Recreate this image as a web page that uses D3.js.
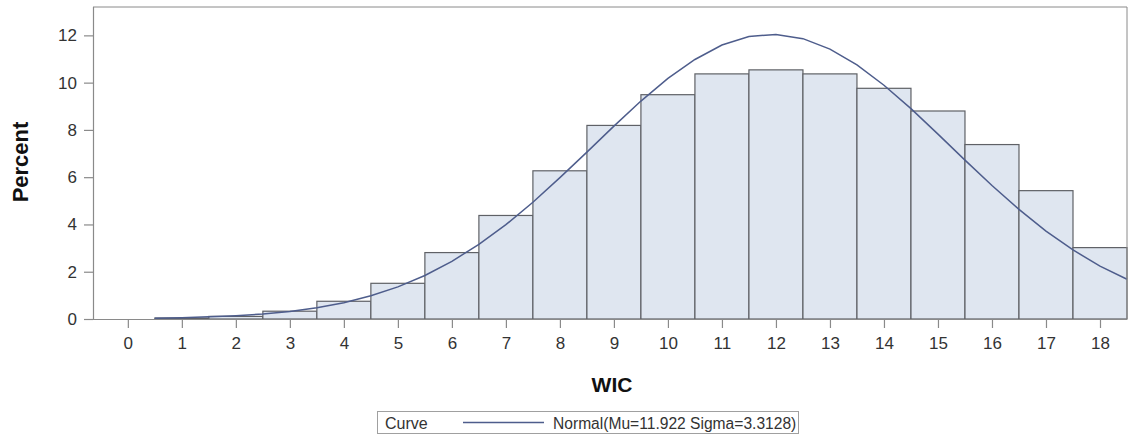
<!DOCTYPE html>
<html><head><meta charset="utf-8">
<script src="https://cdn.jsdelivr.net/npm/d3@7"></script>
<style>
html,body{margin:0;padding:0;background:#fff;}
svg{display:block;font-family:"Liberation Sans",Arial,sans-serif;}
</style></head>
<body><svg id="chart" width="1132" height="441"></svg>
<script>
// Histogram bins (midpoints) and percent values
const binMids = [1,2,3,4,5,6,7,8,9,10,11,12,13,14,15,16,17,18];
const binPercent = [0.04,0.11,0.33,0.75,1.51,2.81,4.38,6.27,8.19,9.49,10.37,10.54,10.37,9.76,8.8,7.38,5.43,3.02];
// Normal curve points
const curveX = [0.5,1,1.5,2,2.5,3,3.5,4,4.5,5,5.5,6,6.5,7,7.5,8,8.5,9,9.5,10,10.5,11,11.5,12,12.5,13,13.5,14,14.5,15,15.5,16,16.5,17,17.5,18,18.5];
const curveY = [0.03,0.05,0.09,0.14,0.21,0.32,0.48,0.69,0.98,1.36,1.84,2.44,3.16,3.99,4.94,5.98,7.06,8.16,9.22,10.18,10.98,11.59,11.95,12.04,11.86,11.42,10.75,9.89,8.9,7.82,6.72,5.65,4.64,3.72,2.92,2.24,1.68];
const xTicks = [0,1,2,3,4,5,6,7,8,9,10,11,12,13,14,15,16,17,18];
const yTicks = [0,2,4,6,8,10,12];
const binWidth = 1;
const xTitle = "WIC", yTitle = "Percent";
const legendTitle = "Curve", legendLabel = "Normal(Mu=11.922 Sigma=3.3128)";

const svg = d3.select("#chart");
const L = 93, R = 1127, T = 7, B = 319;
const x = d3.scaleLinear().domain([-0.645, 18.5]).range([L, R]);
const y = d3.scaleLinear().domain([0, 13.2]).range([B, T]);

const axisCol = "#8a8a8a", textCol = "#333";

// bars
svg.append("g").selectAll("rect").data(binMids).join("rect")
  .attr("x", (d) => x(d - binWidth/2))
  .attr("width", (d) => x(d + binWidth/2) - x(d - binWidth/2))
  .attr("y", (d,i) => y(binPercent[i]))
  .attr("height", (d,i) => y(0) - y(binPercent[i]))
  .attr("fill", "#dfe6f0")
  .attr("stroke", "#5f6166")
  .attr("stroke-width", 1.2);

// curve
const line = d3.line().x((d) => x(d[0])).y((d) => y(d[1]));
svg.append("path")
  .datum(curveX.map((v,i) => [v, curveY[i]]))
  .attr("d", line)
  .attr("fill", "none")
  .attr("stroke", "#4e5d8c")
  .attr("stroke-width", 1.5);

// frame (top, right)
svg.append("path")
  .attr("d", `M${L},${T}H${R}V${B}`)
  .attr("fill", "none").attr("stroke", axisCol).attr("stroke-width", 1);

// axes
const xAxis = d3.axisBottom(x).tickValues(xTicks).tickSize(9).tickPadding(9).tickSizeOuter(0);
const gx = svg.append("g").attr("transform", `translate(0,${B})`).call(xAxis);
const yAxis = d3.axisLeft(y).tickValues(yTicks).tickSize(9).tickPadding(7).tickSizeOuter(0);
const gy = svg.append("g").attr("transform", `translate(${L},0)`).call(yAxis);
[gx, gy].forEach(g => {
  g.select(".domain").attr("stroke", axisCol).attr("stroke-width", 1.2);
  g.selectAll(".tick line").attr("stroke", axisCol).attr("stroke-width", 1.2);
  g.selectAll(".tick text").attr("fill", textCol).style("font-size", "17px")
   .style("font-family", '"Liberation Sans",Arial,sans-serif');
});
gx.select(".domain").attr("d", `M${L},0.5H${R}`);
gy.select(".domain").attr("d", `M0.5,${T}V${B}`);

// axis titles
svg.append("text").attr("x", 612).attr("y", 392).attr("text-anchor", "middle")
  .attr("font-weight", "bold").attr("font-size", 21).attr("fill", "#111").text(xTitle);
svg.append("text").attr("transform", "translate(28,162) rotate(-90)").attr("text-anchor", "middle")
  .attr("font-weight", "bold").attr("font-size", 22).attr("fill", "#111").text(yTitle);

// legend
const lg = svg.append("g");
lg.append("rect").attr("x", 377.5).attr("y", 411.5).attr("width", 421).attr("height", 22)
  .attr("fill", "#fff").attr("stroke", "#a0a0a0");
lg.append("text").attr("x", 385).attr("y", 428.5).attr("font-size", 16).attr("fill", textCol).text(legendTitle);
lg.append("line").attr("x1", 463).attr("x2", 544).attr("y1", 422.5).attr("y2", 422.5)
  .attr("stroke", "#4e5d8c").attr("stroke-width", 1.5);
lg.append("text").attr("x", 553).attr("y", 428.5).attr("font-size", 15.6).attr("fill", textCol).text(legendLabel);
</script></body></html>
